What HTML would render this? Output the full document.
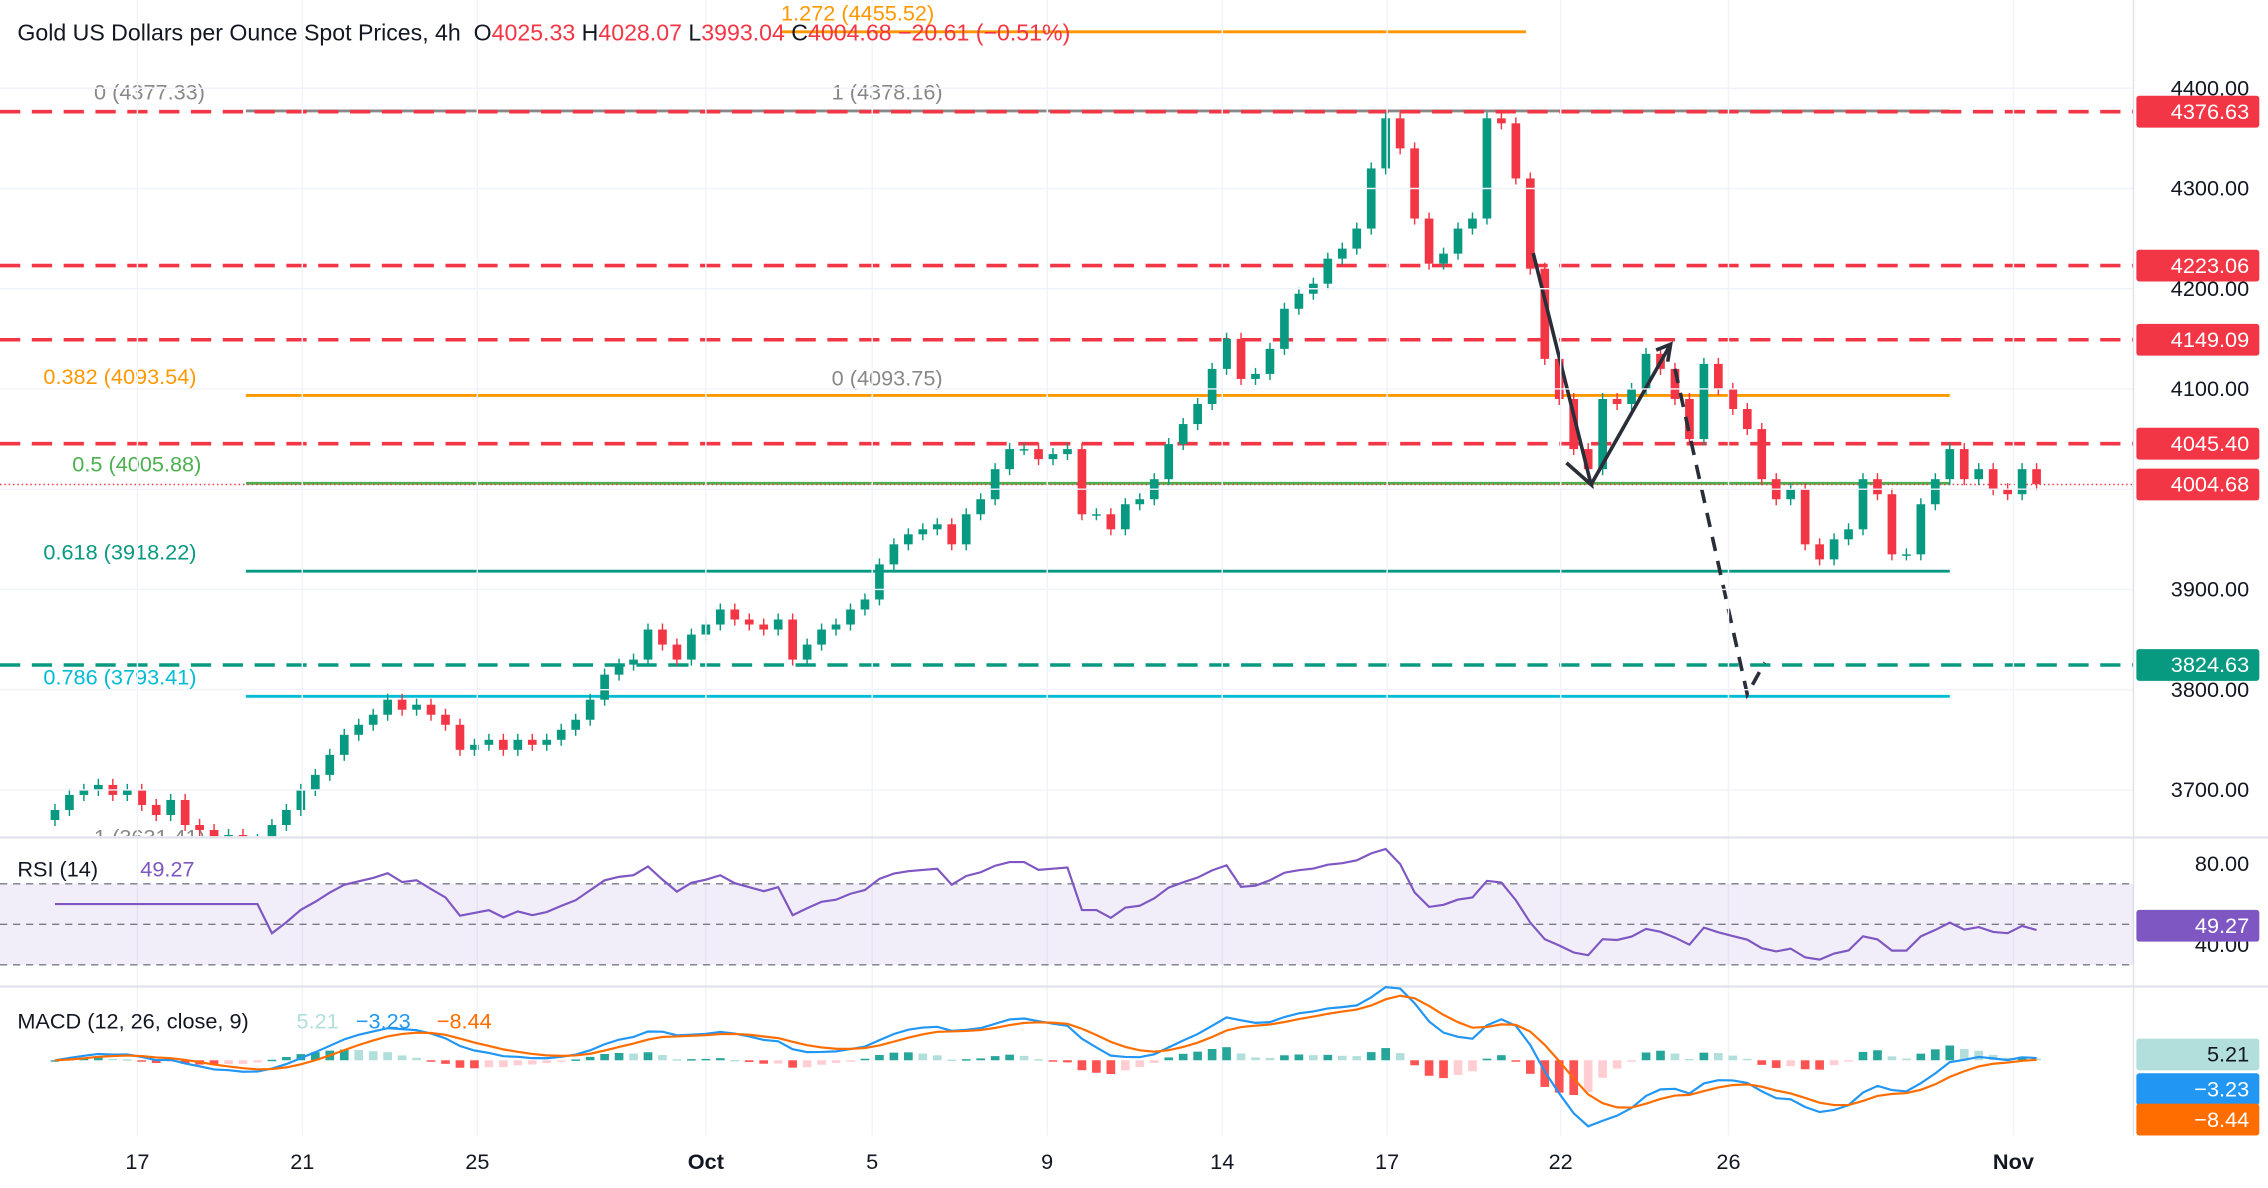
<!DOCTYPE html>
<html><head><meta charset="utf-8">
<style>
html,body{margin:0;padding:0;background:#fff;}
svg{display:block;font-family:"Liberation Sans",sans-serif;}
</style></head>
<body>
<svg id="chart" width="2268" height="1188" viewBox="0 0 1568 821.3" preserveAspectRatio="none" xmlns="http://www.w3.org/2000/svg"><defs><clipPath id="pc"><rect x="0" y="0" width="1475" height="578"/></clipPath></defs><g id="pg" clip-path="url(#pc)"></g></svg>
<script>
const closes=[3680,3695,3700,3705,3695,3700,3685,3675,3690,3665,3660,3650,3655,3645,3650,3665,3680,3700,3715,3735,3755,3765,3775,3790,3780,3785,3775,3765,3740,3745,3750,3740,3750,3745,3750,3760,3770,3790,3815,3825,3830,3860,3845,3830,3855,3865,3880,3870,3865,3860,3870,3830,3845,3860,3865,3880,3890,3925,3945,3955,3960,3965,3945,3975,3990,4020,4040,4040,4030,4035,4040,3975,3975,3960,3985,3990,4010,4045,4065,4085,4120,4150,4110,4115,4140,4180,4195,4205,4230,4240,4260,4320,4370,4340,4270,4225,4235,4260,4270,4370,4365,4310,4220,4130,4090,4040,4020,4090,4085,4100,4135,4120,4090,4050,4125,4100,4080,4060,4010,3990,4000,3945,3930,3950,3960,4010,3995,3935,3935,3985,4010,4040,4010,4020,4000,3995,4020,4005];
const priceTicks=[4400,4300,4200,4100,4000,3900,3800,3700];
const dateLabels=["17","21","25","Oct","5","9","14","17","22","26","Nov"];
const dateIdx=[5.7,17.1,29.2,45,56.5,68.6,80.7,92.1,104.1,115.7,135.4];
const levelsRed=[4376.63,4223.06,4149.09,4045.40];
const levelGreen=[3824.63];
const fibVals=[4377.33,4093.54,4005.88,3918.22,3793.41];
const fibLabels=["0 (4377.33)","0.382 (4093.54)","0.5 (4005.88)","0.618 (3918.22)","0.786 (3793.41)"];
const fibColors=["#888","#ff9800","#4caf50","#089981","#00bcd4"];
const lastPrice=4004.68;

const S=document.getElementById('chart');const PG=document.getElementById('pg');const NS="http://www.w3.org/2000/svg";
let target=S;
function el(t,a,txt){const e=document.createElementNS(NS,t);for(const k in a)e.setAttribute(k,a[k]);if(txt!==undefined)e.textContent=txt;target.appendChild(e);return e;}
const Y=p=>61+(4400-p)*0.693;
const X=i=>38+10*i;
const RY=v=>639-(v-50)*1.4;
const MY=v=>733-v*0.75;

// grid
priceTicks.forEach(p=>{const g=el('line',{x1:0,x2:1475,y1:Y(p),y2:Y(p),stroke:'#f0f3fa'});});
dateIdx.forEach(d=>{const g=el('line',{x1:X(d),x2:X(d),y1:0,y2:785,stroke:'#f0f3fa'});});
[579,682].forEach(y=>{const l=el('line',{x1:0,x2:1568,y1:y,y2:y,stroke:'#e0e3eb','stroke-width':1.5});});
const ax=el('line',{x1:1475,x2:1475,y1:0,y2:785,stroke:'#e0e3eb'});

target=PG;
fibVals.forEach((v,k)=>{const l=el('line',{x1:170,x2:1348,y1:Y(v),y2:Y(v),stroke:fibColors[k],'stroke-width':2});
 const t=el('text',{x:k==0?65:(k==2?50:30),y:Y(v)-8,fill:fibColors[k],'font-size':15},fibLabels[k]);});
let t;
t=el('text',{x:575,y:Y(4377.33)-8,fill:'#888','font-size':15},'1 (4378.16)');
t=el('text',{x:575,y:Y(4093.54)-7,fill:'#888','font-size':15},'0 (4093.75)');
t=el('line',{x1:540,x2:1055,y1:22,y2:22,stroke:'#ff9800','stroke-width':2});
t=el('text',{x:540,y:14,fill:'#ff9800','font-size':15},'1.272 (4455.52)');
t=el('text',{x:65,y:584,fill:'#888','font-size':15},'1 (3631.41)');

levelsRed.forEach(v=>{const l=el('line',{x1:0,x2:1475,y1:Y(v),y2:Y(v),stroke:'#f23645','stroke-width':2.5,'stroke-dasharray':'14 8'});});
levelGreen.forEach(v=>{const l=el('line',{x1:0,x2:1475,y1:Y(v),y2:Y(v),stroke:'#089981','stroke-width':2.5,'stroke-dasharray':'14 8'});});
t=el('line',{x1:0,x2:1475,y1:Y(lastPrice),y2:Y(lastPrice),stroke:'#f23645','stroke-width':1,'stroke-dasharray':'1 2'});

closes.forEach((c,i)=>{const o=i?closes[i-1]:c-10;const up=c>=o;const col=up?'#089981':'#f23645';
 const hi=Math.max(o,c)+6,lo=Math.min(o,c)-6;
 const w=el('line',{x1:X(i),x2:X(i),y1:Y(hi),y2:Y(lo),stroke:col,'stroke-width':1});
 const b=el('rect',{x:X(i)-3,y:Y(Math.max(o,c)),width:6,height:Math.max(1,Math.abs(Y(o)-Y(c))),fill:col});});

t=el('polyline',{points:'1060,175 1100,335 1083,320 1100,335 1155,238',fill:'none',stroke:'#2a2e39','stroke-width':2.5});
t=el('polyline',{points:'1145,242 1155,238 1153,250',fill:'none',stroke:'#2a2e39','stroke-width':2.5});
t=el('polyline',{points:'1158,255 1208,480 1220,458',fill:'none',stroke:'#2a2e39','stroke-width':2.5,'stroke-dasharray':'10 7'});
target=S;

priceTicks.forEach(p=>{const l=el('text',{x:1555,y:Y(p)+5,'text-anchor':'end','font-size':15,fill:'#131722'},p.toFixed(2));});
function tag(v,y,bg,fg,name){const r=el('rect',{x:1477,y:y-11,width:85,height:22,rx:2,fill:bg});
 const tx=el('text',{x:1555,y:y+5,'text-anchor':'end','font-size':15,fill:fg},v);}
levelsRed.forEach(v=>tag(v.toFixed(2),Y(v),'#f23645','#fff','level-tag'));
tag(lastPrice.toFixed(2),Y(lastPrice),'#f23645','#fff','last-price-tag');
levelGreen.forEach(v=>tag(v.toFixed(2),Y(v),'#089981','#fff','support-tag'));

dateLabels.forEach((d,k)=>{const l=el('text',{x:X(dateIdx[k]),y:808,'text-anchor':'middle','font-size':15,fill:'#131722','font-weight':d=='Oct'||d=='Nov'?'bold':'normal'},d);});

// RSI
const rsi=[];let ag=0,al=0;const N=14;
for(let i=0;i<closes.length;i++){if(i==0){rsi.push(60);continue;}const ch=closes[i]-closes[i-1];const g=Math.max(ch,0),l=Math.max(-ch,0);
 if(i<=N){ag+=g/N;al+=l/N;rsi.push(60);}else{ag=(ag*(N-1)+g)/N;al=(al*(N-1)+l)/N;rsi.push(al==0?70:100-100/(1+ag/al));}}
t=el('rect',{x:0,y:RY(70),width:1475,height:RY(30)-RY(70),fill:'#7e57c2','fill-opacity':0.1});
[70,50,30].forEach(v=>{const l=el('line',{x1:0,x2:1475,y1:RY(v),y2:RY(v),stroke:'#787b86','stroke-dasharray':'5 4'});});
t=el('polyline',{points:rsi.map((v,i)=>X(i)+','+RY(v)).join(' '),fill:'none',stroke:'#7e57c2','stroke-width':1.5});
[80,40].forEach(v=>{const l=el('text',{x:1555,y:RY(v)+5,'text-anchor':'end','font-size':15,fill:'#131722'},v.toFixed(2));});
tag('49.27',640,'#7e57c2','#fff','rsi-tag');
t=el('text',{x:12,y:606,'font-size':15,fill:'#131722'},'RSI (14)');
t=el('text',{x:97,y:606,'font-size':15,fill:'#7e57c2'},'49.27');

// MACD
function ema(a,n){const k=2/(n+1);const o=[];a.forEach((v,i)=>o.push(i?v*k+o[i-1]*(1-k):v));return o;}
const e12=ema(closes,6),e26=ema(closes,13);const macd=closes.map((c,i)=>e12[i]-e26[i]);const sig=ema(macd,5);
macd.forEach((m,i)=>{const h=m-sig[i];const prev=i?macd[i-1]-sig[i-1]:h;const col=h>=0?(h>=prev?'#26a69a':'#b2dfdb'):(h<=prev?'#ff5252':'#ffcdd2');
 const r=el('rect',{x:X(i)-3,y:Math.min(MY(h),MY(0)),width:6,height:Math.max(1,Math.abs(MY(h)-MY(0))),fill:col});});
t=el('polyline',{points:macd.map((v,i)=>X(i)+','+MY(v)).join(' '),fill:'none',stroke:'#2196f3','stroke-width':1.5});
t=el('polyline',{points:sig.map((v,i)=>X(i)+','+MY(v)).join(' '),fill:'none',stroke:'#ff6d00','stroke-width':1.5});
tag('5.21',729,'#b2dfdb','#131722','macd-hist-tag');
tag('−3.23',753,'#2196f3','#fff','macd-tag');
tag('−8.44',774,'#ff6d00','#fff','signal-tag');
t=el('text',{x:12,y:711,'font-size':15,fill:'#131722'},'MACD (12, 26, close, 9)');
t=el('text',{x:205,y:711,'font-size':15,fill:'#b2dfdb'},'5.21');
t=el('text',{x:246,y:711,'font-size':15,fill:'#2196f3'},'−3.23');
t=el('text',{x:302,y:711,'font-size':15,fill:'#ff6d00'},'−8.44');

const hdr=el('text',{x:12,y:28,'font-size':16,fill:'#131722'});
[['Gold US Dollars per Ounce Spot Prices, 4h  ','#131722'],['O','#131722'],['4025.33 ','#f23645'],['H','#131722'],['4028.07 ','#f23645'],['L','#131722'],['3993.04 ','#f23645'],['C','#131722'],['4004.68 ','#f23645'],['−20.61 (−0.51%)','#f23645']].forEach(p=>{const s=document.createElementNS(NS,'tspan');s.setAttribute('fill',p[1]);s.textContent=p[0];hdr.appendChild(s);});
hdr.setAttribute('style','white-space:pre');
</script>
</body></html>
